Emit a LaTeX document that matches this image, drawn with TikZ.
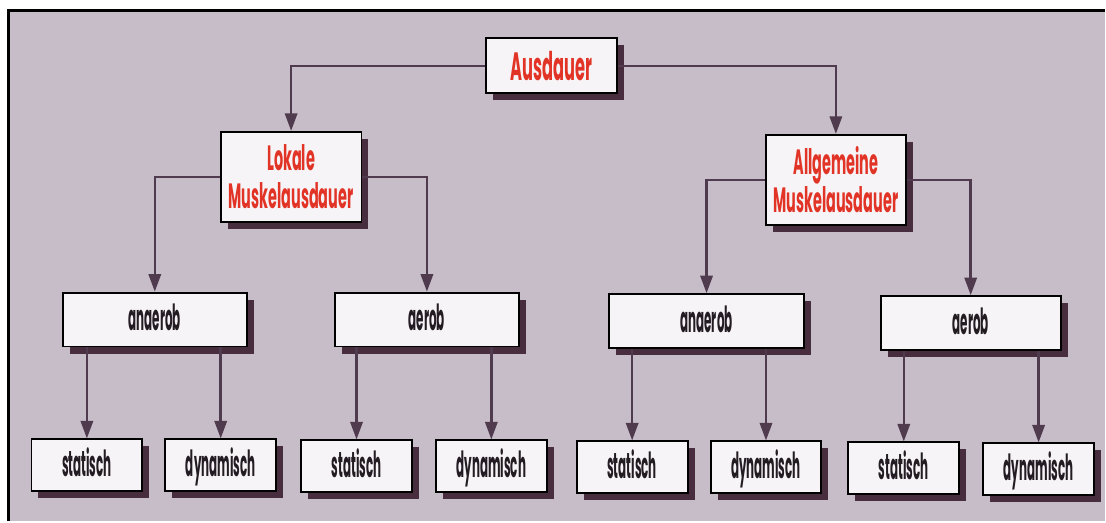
\documentclass[tikz,border=0pt]{standalone}
\usepackage{fontspec}
\setmainfont{Poppins}
\newfontfamily\plainfont{Poppins}[FakeStretch=0.33]
\newfontfamily\headfont{Poppins}[FakeStretch=0.41]
\usetikzlibrary{arrows.meta,shadows}

\definecolor{paper}{RGB}{199,189,200}
\definecolor{boxfill}{RGB}{246,244,246}
\definecolor{shadowcol}{RGB}{72,45,62}
\definecolor{linkcol}{RGB}{80,58,78}
\definecolor{headred}{RGB}{226,52,38}
\definecolor{ink}{RGB}{35,28,35}

\tikzset{
  box/.style={draw=black, line width=1.1pt, fill=boxfill, inner sep=0pt,
    drop shadow={shadow xshift=0.14cm, shadow yshift=-0.14cm, fill=shadowcol, opacity=1}},
  head/.style={box, text=headred, align=center,
    font=\headfont\bfseries\fontsize{20}{22}\selectfont},
  leaf/.style={box, text=ink, text height=15pt, text depth=2pt,
    font=\plainfont\bfseries\fontsize{20.5}{22}\selectfont},
  mid/.style={leaf, minimum height=1.08cm},
  low/.style={leaf, minimum width=2.22cm, minimum height=1.04cm},
  link/.style={draw=linkcol, line width=1.4pt, -{Triangle[width=7pt,length=10pt]}},
  edge/.style={draw=black, line width=1.7pt}
}

\begin{document}
\begin{tikzpicture}[x=0.02cm, y=-0.02cm]
  % paper with the scanned edge on top and left
  \fill[white] (0,0) rectangle (1106,522);
  \fill[paper] (9,11) rectangle (1106,522);
  \draw[edge] (9,522) -- (9,11) -- (1106,11);

  % top levels
  \node[head, minimum width=2.62cm, minimum height=1.1cm,
    font=\headfont\bfseries\fontsize{22.5}{20}\selectfont] (aus) at (552,66) {Ausdauer};
  \node[head, minimum width=2.82cm, minimum height=1.8cm] (lok) at (291.5,177) {Lokale\\Muskelausdauer};
  \node[head, minimum width=2.8cm, minimum height=1.8cm] (allg) at (837,180) {Allgemeine\\Muskelausdauer};

  % energy supply
  \node[mid, minimum width=3.68cm] (lokAn) at (155,320) {anaerob};
  \node[mid, minimum width=3.7cm] (lokAe) at (427.5,320) {aerob};
  \node[mid, minimum width=3.9cm] (allgAn) at (707.5,321.5) {anaerob};
  \node[mid, minimum width=3.6cm] (allgAe) at (972,323.5) {aerob};

  % kind of work
  \node[low] (lokAnSt) at (87,466) {statisch};
  \node[low] (lokAnDy) at (221,466) {dynamisch};
  \node[low] (lokAeSt) at (357,467) {statisch};
  \node[low] (lokAeDy) at (492,467) {dynamisch};
  \node[low] (allgAnSt) at (633,468) {statisch};
  \node[low] (allgAnDy) at (767,468) {dynamisch};
  \node[low] (allgAeSt) at (905,469) {statisch};
  \node[low] (allgAeDy) at (1040,470) {dynamisch};

  \draw[link] (aus.west) -| (lok.north);
  \draw[link] (aus.east) -| (allg.north);
  \draw[link] (lok.west) -| (lokAn.north);
  \draw[link] (lok.east) -| (lokAe.north);
  \draw[link] (allg.west) -| (allgAn.north);
  \draw[link] (allg.east) -| (allgAe.north);

  \foreach \up/\down in {lokAn/lokAnSt, lokAn/lokAnDy, lokAe/lokAeSt, lokAe/lokAeDy,
      allgAn/allgAnSt, allgAn/allgAnDy, allgAe/allgAeSt, allgAe/allgAeDy}
    \draw[link] (\up.south -| \down.north) -- (\down.north);
\end{tikzpicture}
\end{document}
